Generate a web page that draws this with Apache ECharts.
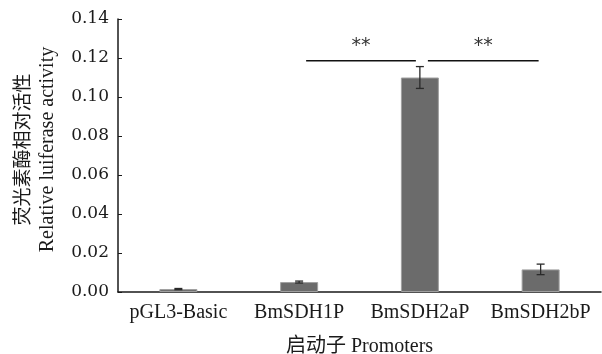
<!DOCTYPE html>
<html><head><meta charset="utf-8">
<script src="https://cdn.jsdelivr.net/npm/echarts@6/dist/echarts.min.js"></script>
<style>html,body{margin:0;padding:0;background:#fff}#c{width:602px;height:354px}</style>
</head><body><div id="c"></div>
<script>
const categories = ['pGL3-Basic', 'BmSDH1P', 'BmSDH2aP', 'BmSDH2bP'];
const values = [0.0015, 0.0051, 0.110, 0.0116];
const errors = [0.0003, 0.0005, 0.0056, 0.0027];
const yTicks = [0, 0.02, 0.04, 0.06, 0.08, 0.10, 0.12, 0.14];
const sigPairs = [[1, 2, 0.1186, '**'], [2, 3, 0.1186, '**']];

const chart = echarts.init(document.getElementById('c'));
const serifT = '"Liberation Serif", "Times New Roman", serif';
const serifD = '"DejaVu Serif", "Liberation Serif", serif';
chart.setOption({
  animation: false,
  backgroundColor: '#fff',
  grid: {left: 118, right: 1, top: 19, bottom: 62, outerBoundsMode: 'none', containLabel: false},
  xAxis: {
    type: 'category', data: categories,
    axisLine: {lineStyle: {color: '#1a1a1a', width: 1.5}},
    axisTick: {inside: true, length: 4, alignWithLabel: true, lineStyle: {color: '#1a1a1a'}},
    axisLabel: {color: '#1a1a1a', fontFamily: serifT, fontSize: 20, margin: 11, interval: 0, hideOverlap: false},
    name: '启动子 Promoters', nameLocation: 'middle', nameGap: 45,
    nameTextStyle: {color: '#1a1a1a', fontFamily: serifT + ', "Noto Sans CJK SC"', fontSize: 20}
  },
  yAxis: {
    type: 'value', min: yTicks[0], max: yTicks[yTicks.length - 1], interval: 0.02,
    splitLine: {show: false},
    axisLine: {show: true, lineStyle: {color: '#1a1a1a', width: 1.5}},
    axisTick: {show: true, inside: true, length: 4, lineStyle: {color: '#1a1a1a'}},
    axisLabel: {color: '#1a1a1a', fontFamily: serifD, fontSize: 17, margin: 9,
      formatter: v => v.toFixed(2)},
    name: '{a|荧光素酶相对活性}\n{b|Relative luiferase activity}',
    nameLocation: 'middle', nameRotate: 90, nameGap: 57,
    nameTextStyle: {
      padding: [0, 0, 0, 12],
      rich: {
        a: {fontFamily: '"Noto Sans CJK SC"', fontSize: 19, color: '#1a1a1a', lineHeight: 26},
        b: {fontFamily: serifT, fontSize: 20, color: '#1a1a1a', lineHeight: 26}
      }
    }
  },
  series: [
    {
      type: 'bar', data: values, barWidth: 38,
      itemStyle: {color: '#6b6b6b', borderColor: '#a0a0a0', borderWidth: 1}
    },
    {
      type: 'custom',
      data: values.map((v, i) => [i, v, errors[i]]),
      renderItem: (params, api) => {
        const x = api.value(0), v = api.value(1), e = api.value(2);
        const top = api.coord([x, v + e]), bot = api.coord([x, v - e]);
        const hw = 4;
        const st = {stroke: '#2a2a2a', lineWidth: 1.3};
        return {type: 'group', children: [
          {type: 'line', shape: {x1: top[0], y1: top[1], x2: bot[0], y2: bot[1]}, style: st},
          {type: 'line', shape: {x1: top[0] - hw, y1: top[1], x2: top[0] + hw, y2: top[1]}, style: st},
          {type: 'line', shape: {x1: bot[0] - hw, y1: bot[1], x2: bot[0] + hw, y2: bot[1]}, style: st}
        ]};
      },
      z: 5
    },
    {
      type: 'custom',
      data: sigPairs.map(p => [p[0], p[1], p[2], p[3]]),
      renderItem: (params, api) => {
        const a = api.value(0), b = api.value(1), y = api.value(2);
        const p1 = api.coord([a, y]), p2 = api.coord([b, y]);
        const x1 = p1[0] + (a < 2 ? 7 : 8), x2 = p2[0] - (b > 2 ? 2 : 4);
        return {type: 'group', children: [
          {type: 'line', shape: {x1: x1, y1: p1[1], x2: x2, y2: p1[1]}, style: {stroke: '#111', lineWidth: 1.6}},
          {type: 'text', x: (x1 + x2) / 2, y: p1[1] - 15,
            style: {text: sigPairs[params.dataIndex][3], fill: '#333', fontSize: 19, fontFamily: '"DejaVu Sans"', align: 'center', verticalAlign: 'middle'}}
        ]};
      },
      z: 6
    }
  ]
});
</script></body></html>
